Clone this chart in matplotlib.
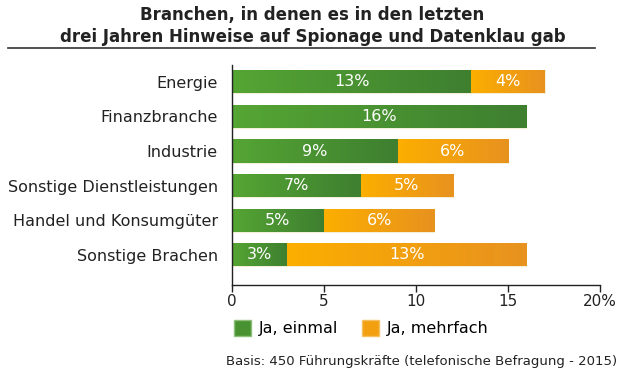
import matplotlib
matplotlib.use('Agg')
import matplotlib.pyplot as plt
import numpy as np
from matplotlib.colors import LinearSegmentedColormap
from matplotlib.patches import Patch

plt.rcParams['font.family'] = ['DejaVu Sans']

categories = ['Energie', 'Finanzbranche', 'Industrie', 'Sonstige Dienstleistungen',
              'Handel und Konsumgüter', 'Sonstige Brachen']
einmal = [13, 16, 9, 7, 5, 3]
mehrfach = [4, 0, 6, 5, 6, 13]
xticks = [0, 5, 10, 15, 20]
xticklabels = ['0', '5', '10', '15', '20%']

green_cm = LinearSegmentedColormap.from_list('g', ['#55a534', '#3e7f30'])
orange_cm = LinearSegmentedColormap.from_list('o', ['#fcae00', '#e8921f'])

fig = plt.figure(figsize=(6.25, 3.75), dpi=100)
ax = fig.add_axes([0.371, 0.24, 0.589, 0.587])

y = np.arange(len(categories))
grad = np.linspace(0, 1, 64).reshape(1, -1)

def draw(left, width, cmap):
    bars = ax.barh(y, width, left=left, height=0.67, color=cmap(0.5),
                   edgecolor='#f3efd9', linewidth=0.8, zorder=2)
    for b in bars:
        if b.get_width() <= 0:
            continue
        x0, y0 = b.get_x(), b.get_y()
        im = ax.imshow(grad, cmap=cmap, aspect='auto', zorder=2.5,
                       extent=(x0, x0 + b.get_width(), y0 + b.get_height(), y0))
        im.set_clip_path(b)
        ax.text(x0 + b.get_width() / 2, y0 + b.get_height() / 2,
                f'{int(round(b.get_width()))}%', ha='center', va='center',
                color='white', fontsize=11.5, zorder=4)
    return bars

draw(np.zeros(len(y)), einmal, green_cm)
draw(np.array(einmal), mehrfach, orange_cm)

ax.set_xlim(0, 20)
ax.set_ylim(5.87, -0.49)
ax.set_xticks(xticks)
ax.set_xticklabels(xticklabels, fontsize=11)
ax.set_yticks(y)
ax.set_yticklabels(categories, fontsize=11.5, color='#222222')
ax.tick_params(axis='y', length=0, pad=10)
ax.tick_params(axis='x', direction='out', length=5, width=1, pad=1.5, color='#222222',
               labelcolor='#222222')
for s in ['top', 'right']:
    ax.spines[s].set_visible(False)
for s in ['left', 'bottom']:
    ax.spines[s].set_color('#222222')
    ax.spines[s].set_linewidth(1)

fig.text(0.5, 0.96, 'Branchen, in denen es in den letzten', ha='center', va='center',
         fontsize=12, fontweight='bold', color='#222222')
fig.text(0.5, 0.902, 'drei Jahren Hinweise auf Spionage und Datenklau gab', ha='center',
         va='center', fontsize=12, fontweight='bold', color='#222222')
fig.add_artist(plt.Line2D([0.013, 0.952], [0.872, 0.872], color='#333333', lw=1.2))

handles = [Patch(facecolor=green_cm(0.5), edgecolor='#8fc07a', label='Ja, einmal'),
           Patch(facecolor=orange_cm(0.5), edgecolor='#f7c060', label='Ja, mehrfach')]
fig.legend(handles=handles, loc='center left', bbox_to_anchor=(0.352, 0.125), ncol=2,
           frameon=False, fontsize=11.5, handlelength=1.05, handleheight=1.15,
           handletextpad=0.5, columnspacing=1.5)

fig.text(0.987, 0.035, 'Basis: 450 Führungskräfte (telefonische Befragung - 2015)',
         ha='right', va='center', fontsize=9.5, color='#222222')

fig.savefig('out.png', dpi=100)
